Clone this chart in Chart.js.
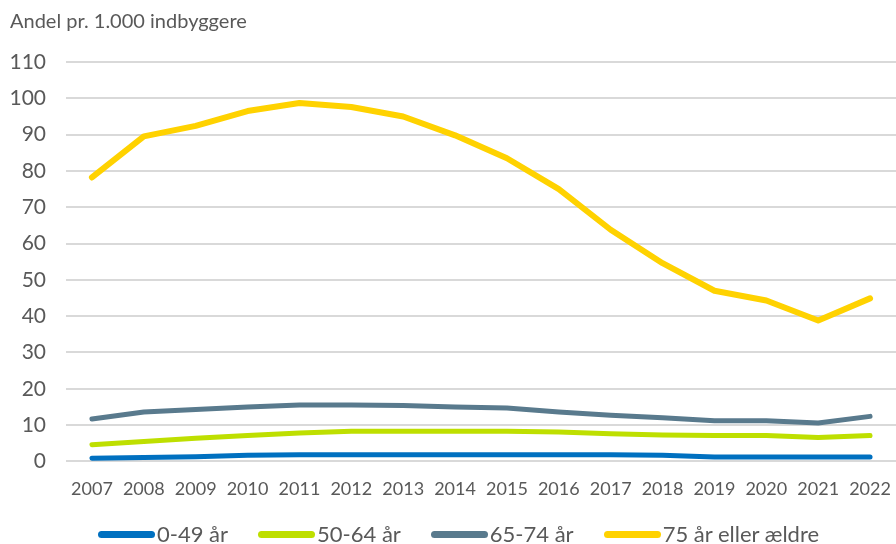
<!DOCTYPE html>
<html>
<head>
<meta charset="utf-8">
<script src="https://cdn.jsdelivr.net/npm/chart.js@4"></script>
<style>
  body { margin: 0; background: #fff; overflow: hidden; }
  #wrap { position: relative; width: 896px; height: 544px; overflow: hidden; }
  canvas { display: block; }
  #legend { position: absolute; top: 523px; left: 98px; display: flex; align-items: center;
            font-family: Lato, sans-serif; font-size: 22px; line-height: 22px; color: #595959; }
  .item { display: flex; align-items: center; margin-right: 30px; }
  .swatch { width: 57px; height: 7px; border-radius: 4px; margin-right: 2px; }
</style>
</head>
<body>
<div id="wrap">
  <canvas id="chart" width="896" height="544"></canvas>
  <div id="legend"></div>
</div>
<script>
const years = ["2007","2008","2009","2010","2011","2012","2013","2014","2015","2016","2017","2018","2019","2020","2021","2022"];
const seriesNames = ["0-49 år", "50-64 år", "65-74 år", "75 år eller ældre"];
const age0to49 = [0.9, 1.1, 1.3, 1.7, 1.8, 1.8, 1.8, 1.8, 1.8, 1.8, 1.8, 1.7, 1.2, 1.2, 1.2, 1.2];
const age50to64 = [4.6, 5.5, 6.4, 7.1, 7.8, 8.3, 8.3, 8.3, 8.3, 8.1, 7.6, 7.3, 7.1, 7.1, 6.6, 7.1];
const age65to74 = [11.7, 13.6, 14.3, 15.0, 15.5, 15.5, 15.4, 15.0, 14.7, 13.6, 12.7, 12.0, 11.2, 11.2, 10.6, 12.4];
const age75plus = [78.2, 89.5, 92.4, 96.5, 98.7, 97.6, 95.0, 89.8, 83.5, 75.0, 63.8, 54.6, 47.0, 44.3, 38.8, 44.9];
const yTicks = [0, 10, 20, 30, 40, 50, 60, 70, 80, 90, 100, 110];

const colors = ["#0070C0", "#BEDF00", "#597A8D", "#FFD200"];
const values = [age0to49, age50to64, age65to74, age75plus];
const textColor = "#595959";

const datasets = values.map((v, i) => ({
  label: seriesNames[i],
  data: v,
  borderColor: colors[i],
  backgroundColor: colors[i],
  borderWidth: i === 3 ? 6 : 5,
  borderCapStyle: "round",
  borderJoinStyle: "round",
  pointRadius: 0,
  tension: 0
}));

new Chart(document.getElementById("chart"), {
  type: "line",
  data: { labels: years, datasets },
  options: {
    responsive: false,
    animation: false,
    layout: { padding: { left: 10, right: 0, top: 0, bottom: 27 } },
    plugins: {
      legend: { display: false },
      tooltip: { enabled: false },
      title: {
        display: true,
        text: "Andel pr. 1.000 indbyggere",
        align: "start",
        color: textColor,
        font: { family: "Lato", size: 20, weight: "normal" },
        padding: { top: 10, bottom: 28 }
      }
    },
    scales: {
      x: {
        offset: true,
        // the tick padding would otherwise eat room on the right, so the grid runs to the edge
        afterFit: s => { s.paddingLeft = 0; s.paddingRight = 0; },
        grid: { display: false, drawTicks: false },
        border: { display: false },
        ticks: { color: textColor, font: { family: "Lato", size: 18 }, padding: 17, maxRotation: 0, autoSkip: false }
      },
      y: {
        min: 0,
        max: 110,
        afterFit: s => { s.width = 56; },
        afterBuildTicks: s => { s.ticks = yTicks.map(v => ({ value: v })); },
        grid: { color: "#D9D9D9", lineWidth: 2, drawTicks: false },
        border: { display: false },
        ticks: { color: textColor, font: { family: "Lato", size: 21 }, padding: 20 }
      }
    }
  }
});

const legend = document.getElementById("legend");
seriesNames.forEach((name, i) => {
  const item = document.createElement("div");
  item.className = "item";
  item.innerHTML = `<span class="swatch" style="background:${colors[i]}"></span><span>${name}</span>`;
  legend.appendChild(item);
});
</script>
</body>
</html>
